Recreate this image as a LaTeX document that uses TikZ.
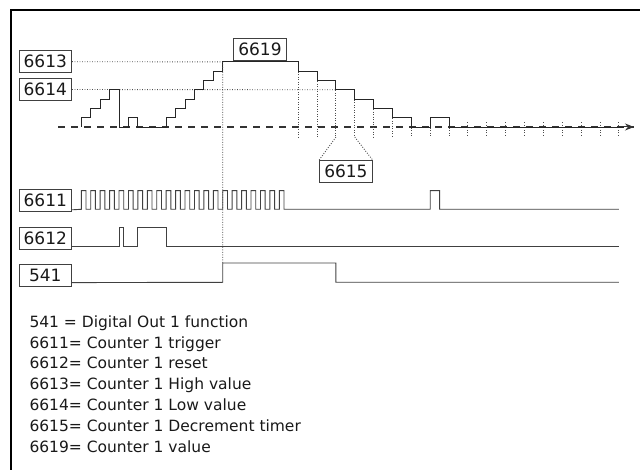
\documentclass[tikz,border=0pt]{standalone}
\usepackage{fontspec}
\setmainfont{DejaVu Sans}
\usetikzlibrary{arrows.meta}
\tikzset{
  lbox/.style={draw=black!75, line width=0.9pt, minimum width=52.5pt, minimum height=22.5pt,
    inner sep=0pt, font=\fontsize{17}{20}\selectfont, text=black!90},
  sig/.style={draw=black!75, line width=0.9pt},
  dots/.style={draw=black!70, line width=0.9pt, dash pattern=on 0.9pt off 1.6pt},
  baseln/.style={draw=black!80, line width=1.2pt, dash pattern=on 7pt off 6pt},
  legend/.style={anchor=base west, inner sep=0pt, font=\fontsize{15.5}{20}\selectfont, text=black!90},
}
\begin{document}
\begin{tikzpicture}[x=1pt,y=-1pt]
\useasboundingbox (0,0) rectangle (640,470);
% frame
\draw[line width=1.3pt] (11,470) -- (11,10) -- (640,10);

% label boxes
\node[lbox] (b6613) at (45.3,61.7) {6613};
\node[lbox] (b6614) at (45.3,89.5) {6614};
\node[lbox] (b6619) at (260,49.4) {6619};
\node[lbox] (b6615) at (345.9,171.7) {6615};
\node[lbox] (b6611) at (45.3,200.5) {6611};
\node[lbox] (b6612) at (45.3,238.3) {6612};
\node[lbox] (b541) at (45.3,275.3) {541};

% dashed base line with arrow
\coordinate (bl0) at (58,127);
\coordinate (bl1) at (634,127);
\draw[baseln] (bl0) -- (bl1);
\draw[draw=black!80, line width=1pt, -{Stealth[length=9pt,width=7pt]}] (620,127) -- (bl1);

% counter value
\begin{scope}[shift={(81.3,127)}, x=9.43pt, y=9.3pt]
  \coordinate (c15) at (15,7);
  \coordinate (c27) at (27,4);
  \draw[dots] (b6613.east) -- (c15);
  \draw[dots] (b6614.east) -- (c27);
  % ticks
  \foreach \k/\v in {23/7,25/6,27/5,29/4,31/3,33/2,35/1,37/1,39/1}
    \draw[dots] (\k,\v) -- (\k,-1.08);
  \foreach \k in {41,43,...,57}
    \draw[dots] (\k,0.5) -- (\k,-1.08);
  \coordinate (t27) at (27,-1.08);
  \coordinate (t29) at (29,-1.08);
  \draw[sig, draw=black!85] (0,0) -- (0,1) -- (1,1) -- (1,2) -- (2,2) -- (2,3) -- (3,3) -- (3,4)
    -- (4,4) -- (4,0) -- (5,0) -- (5,1) -- (6,1) -- (6,0) -- (9,0) -- (9,1) -- (10,1) -- (10,2)
    -- (11,2) -- (11,3) -- (12,3) -- (12,4) -- (13,4) -- (13,5) -- (14,5) -- (14,6) -- (15,6)
    -- (15,7) -- (23,7) -- (23,6) -- (25,6) -- (25,5) -- (27,5) -- (27,4) -- (29,4) -- (29,3)
    -- (31,3) -- (31,2) -- (33,2) -- (33,1) -- (35,1) -- (35,0) -- (37,0) -- (37,1) -- (39,1)
    -- (39,0) -- (57.6,0);
\end{scope}
\draw[dots] (t27) -- (b6615.north west);
\draw[dots] (t29) -- (b6615.north east);

% long dotted line
\coordinate (d541) at (222.75,263);
\draw[dots] (c15) -- (d541);

% 6611 trigger
\begin{scope}[shift={(81.3,209.3)}, x=9.43pt, y=18.6pt]
  \draw[sig] ([yshift=2.4pt]b6611.south east) -- (0,0)
    \foreach \k in {0,...,21} { -- (\k,0) -- (\k,1) -- ({\k+0.5},1) -- ({\k+0.5},0) }
    -- (37,0) -- (37,1) -- (38,1) -- (38,0) -- (57,0);
\end{scope}

% 6612 reset
\begin{scope}[shift={(81.3,246)}, x=9.43pt, y=18.3pt]
  \draw[sig] ([yshift=4pt]b6612.south east) -- (4,0) -- (4,1) -- (4.5,1) -- (4.5,0)
    -- (6,0) -- (6,1) -- (9,1) -- (9,0) -- (57,0);
\end{scope}

% 541 digital out
\begin{scope}[shift={(81.3,282.3)}, x=9.43pt, y=19.3pt]
  \draw[sig] ([yshift=4.4pt]b541.south east) -- (15,0) -- (15,1) -- (27,1) -- (27,0) -- (57,0);
\end{scope}

% legend
\node[legend] (l1) at (29.3,327.3) {541 = Digital Out 1 function};
\node[legend] (l2) at (29.3,348.1) {6611= Counter 1 trigger};
\node[legend] (l3) at (29.3,369.0) {6612= Counter 1 reset};
\node[legend] (l4) at (29.3,389.8) {6613= Counter 1 High value};
\node[legend] (l5) at (29.3,410.6) {6614= Counter 1 Low value};
\node[legend] (l6) at (29.3,431.5) {6615= Counter 1 Decrement timer};
\node[legend] (l7) at (29.3,452.3) {6619= Counter 1 value};
\end{tikzpicture}
\end{document}
